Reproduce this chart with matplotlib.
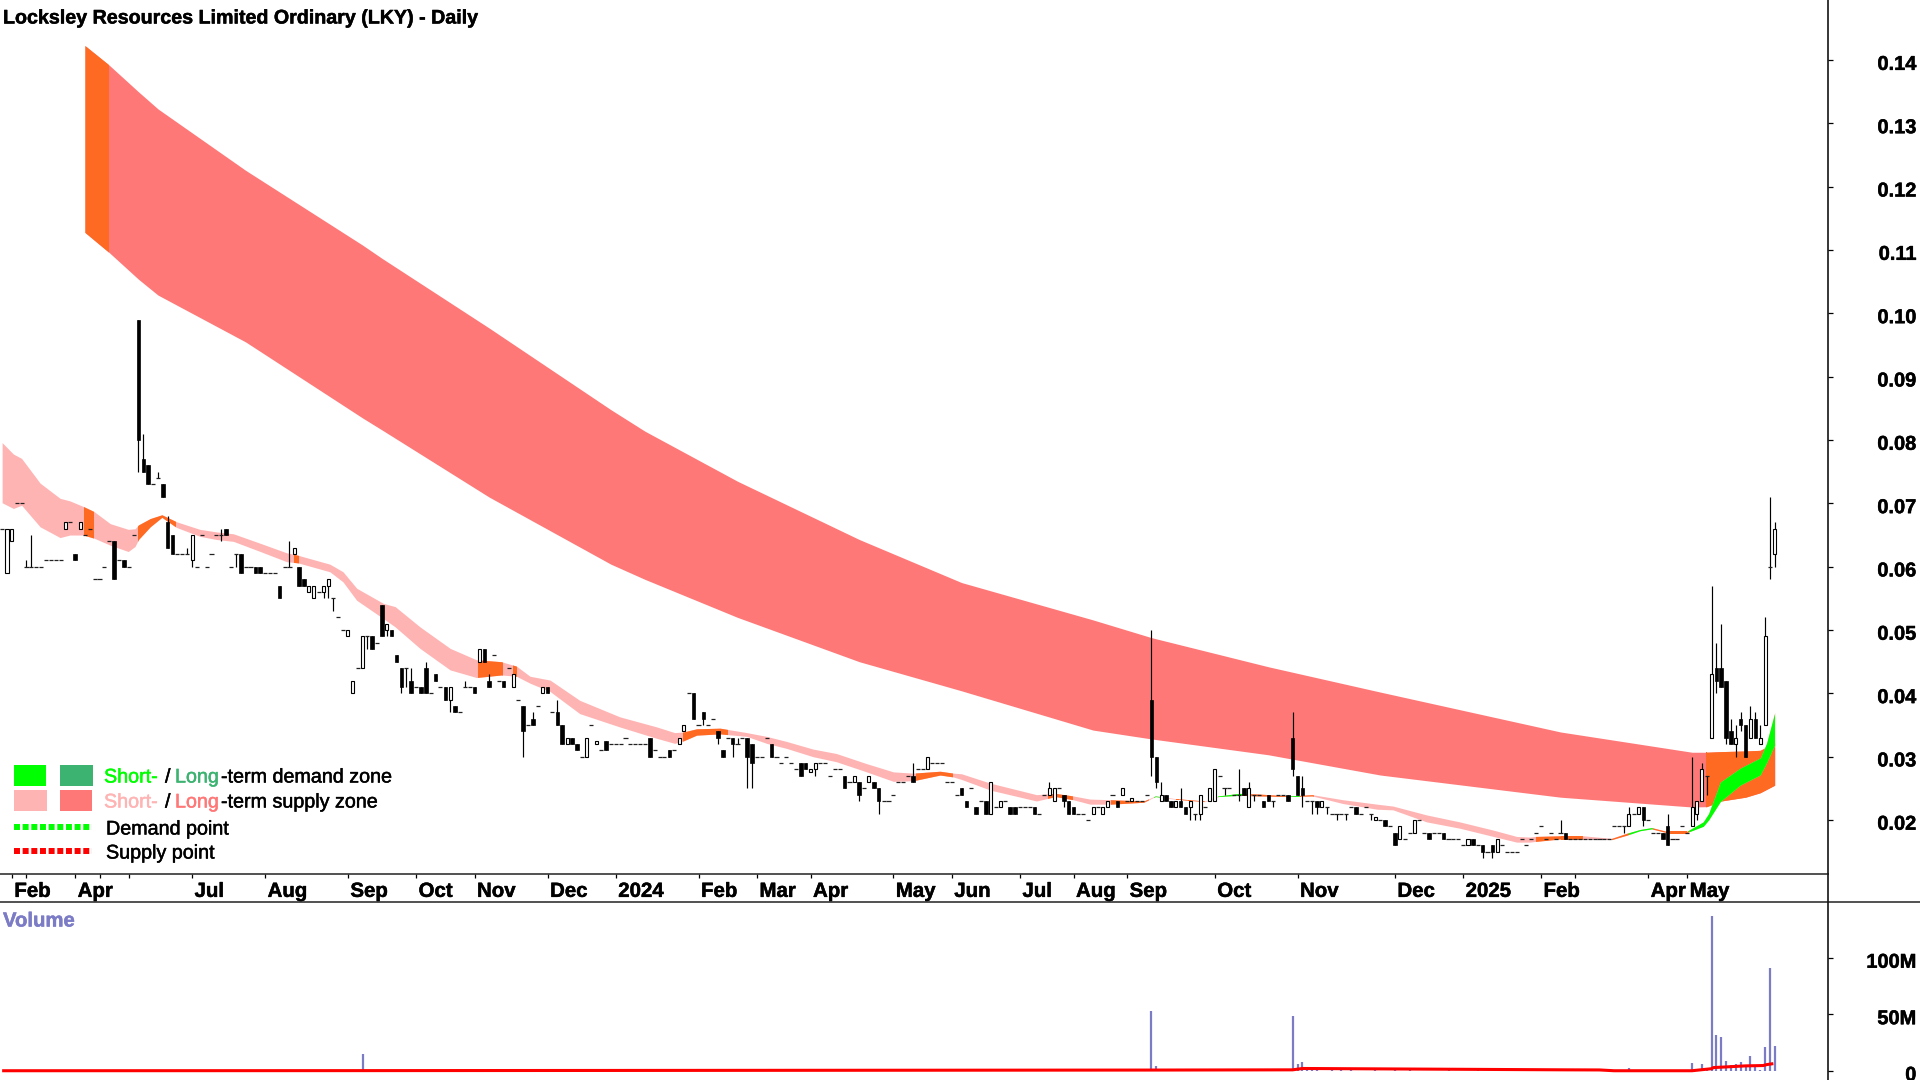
import numpy as np
import matplotlib
matplotlib.use("Agg")
import matplotlib.pyplot as plt
import matplotlib.patheffects as pe
from matplotlib.path import Path
from matplotlib.lines import Line2D
from matplotlib.patches import Rectangle
from matplotlib.transforms import ScaledTranslation

plt.rcParams['font.family'] = ['Liberation Sans', 'DejaVu Sans']

TITLE = "Locksley Resources Limited Ordinary (LKY) - Daily"

# Bars run from index -1 to 363; prices are in thousandths of a dollar.
opens = [
 66,59,64,70,70,60,60,60,60,61, 61,61,61,66,67,62,66,65,66,58,
 58,60,64,64,61,61,60,65,99,77, 76,73,74,73,67,65,62,62,62,61,
 60,65,60,62,65,65,66,60,62,62, 60,60,60,60,59,59,59,57,60,60,
 62,60,58,56,55,56,56,57,55,52, 50,49,40,44,44,49,49,48,54,50,
 50,46,44,44,42,41,41,44,40,43, 41,41,39,38,37,41,41,41,45,47,
 42,46,42,42,44,41,39,38,35,36, 38,40,41,37,37,35,32,33,32,30,
 30,35,32,31,32.5,32,32,32,33,32, 32,32,32,33,31,30,30,31,31,32,
 34,40,40,35,37,35,36,34,31,33, 33,32,33,33,32,30,30,33,32,30,
 29,30,29,28,29,29,27.5,28,29,29, 27,28,28,27,26,26,26,25,26,26,
 25,23,23,24,26,26,27,27,28,28, 28,29,29,29,26,26,24,25,23,25,
 22,23,23,21,22,22,23,22,22,22, 22,22,22,21,24,24,23,25,24,23,
 22,21,21,20,21,22,21,22,24,23, 24,23,23,23,23,24,39,30,23,24,
 23,22,23,22,22,21,21,22,23,23, 27,25,25,24,24,25,22,24,24,23,
 24,23,24,24,24,33,27,25,23,23, 23,22,22,21,21,21,21,22,22,21,
 22,21,20,20,20,19,18,17,17,18, 18,20,18,18,18,18,18,17,17,17,
 16,16,17,16,16,15,16,15,16,15, 15,15,17,16,17,18,19,17,18,17,
 18,18,17,17,17,17,17,17,17,17, 17,19,19,19,19,21,21,22,20,18,
 18,18,19,17,17,19,18,19,21,23, 27,33,44,44,42,34,32,36,35,33,
 36,32,35,60,62]
closes = [
 66,66,66,70,70,60,60,60,60,61, 61,61,61,67,67,61,67,65,66,58,
 58,60,64,58,61,60,60,65,80,75, 73,73,74,71,63,62,62,62,62,65,
 60,65,60,62,65,65,65,60,62,59, 60,60,59,59,59,59,59,55,60,60,
 63,57,57,57,57,56,57,58,55,52, 50,50,42,44,49,49,47,48,49,51,
 49,45,41,44,40,41,40,40,40,42, 41,39,41,37,37,41,41,40,47,45,
 41,46,42,41,44,43,39,34,35,35, 38,41,40,37,35,32,33,32,31,30,
 33,35,32.5,31,31,32,32,32,33,32, 32,32,32,30,31,30,30,30,31,33,
 35,40,36,35,36,35,36,33,30,33, 32,32,33,30,29,30,30,33,30,30,
 29,30,29,28,27,28,28,29,29,29, 27,28,28,25,26,27,24,25,27,25,
 23,23,23,24,26,26,27,26,28,28, 30,29,29,29,26,26,24,24,22,25,
 21,23,21,26,22,23,23,21,21,22, 22,22,21,21,24,25,25,25,23,21,
 21,21,21,20,22,22,22,23,24,22, 25,23,23.5,23,23,24,30,26,24,23,
 22,23,22,21,23,21,24,22,25,28, 27,25,25,24,24,24,25,24,24,22,
 23,23,24,24,23,28,24,24,23,23, 22,23,22,21,21,21,21,22,21,21,
 22,21,20.5,20,19,19,16,19,17,18, 20,20,18,17,18,18,17,17,17,17,
 16,17,16,16,15,15,15,17,16,15, 15,15,17,16,17,18,19,17,18,17,
 18,17,17,17,17,17,17,17,17,17, 17,19,19,19,21,21,22,20,20,18,
 18,17,16,17,17,19,18,22,23,28, 27,43,42,41,33,32,33,35,30,36,
 33,33,49,60,66]

high_bars = [4,5,28,31,33,37,44,58,83,86,94,99,108,113,143,150,186,214,235,237,241,253,255,
             264,266,319,333,341,346,348,350,351,352,354,355,356,358,359,360,361,362,363]
high_vals = [61,65,81,75,68,63,66,64,44,45,42,43,37,39,37,33,29,26,50,26,25,28,26,
             37,27,20,22,21,30,29,57,48,51,36,35,37,38,37,35,52,71,67]
low_bars = [27,38,44,47,65,66,67,74,78,81,82,91,106,143,146,149,152,153,166,175,179,217,235,236,
            243,244,245,250,253,256,260,264,266,268,269,271,273,275,280,303,305,332,336,347,349,
            351,353,355,356,362,363]
low_vals = [75,60,64,60,55,55,53,47,49,40,41,37,30,35,32,30,25,25,27,23,21,22,27,25,
            20,20,20,24,23,23,22,27,22,21,21,21,20,20,20,14,14,18,19,20,24,
            40,32,30,34,58,60]

# Long-term supply zone
long_x = [16,21,27,31,49,73,77,99,124,131,150,175,196,223,235,259,282,319,346,349,352,357,360,363]
long_top = [142.3,139.2,135.0,132.3,122.6,110.8,108.7,97.7,84.8,81.4,73.5,64.3,57.5,51.6,48.8,44.2,
            40.2,33.9,30.7,30.7,30.8,30.9,31.0,32.2]
long_bot = [112.8,109.6,105.4,102.9,95.5,83.5,81.6,71.0,60.4,58.0,52.0,45.0,40.4,34.2,32.8,30.3,
            27.1,23.6,22.05,22.1,23.0,23.6,24.3,25.5]

# Short-term zone
short_x = [-1,1.3,3,6.8,10.9,12.9,15.7,17.9,21.2,24.9,26.3,27,29.4,31.8,34.8,39.6,43,46.5,52,57.4,59.8,
           66.3,69,71.8,77.3,79.7,84.8,91,96.4,101.5,104.6,107.4,111.5,117.6,125.8,133.4,137.1,138.9,
           141.6,146.4,151.9,156,160.1,165.5,170.3,176.5,182,186.1,191.6,194.3,196,202,211.4,215.3,
           218.9,222.4,226.7,233.4,235.8,239.7,246,248.7,253,257,263.3,268,274.3,281.3,284.6,291.5,
           298.3,305.2,310,312.7,313.7,318.9,323.7,329.5,332.6,335.3,337.7,340.8,344.9,348.3,349.4,
           351.8,355.9,360,361.3,363]
short_top = [79.6,77.8,77.1,73.2,70.8,70.4,69.5,68.7,66.8,65.9,66.0,66.6,67.6,68.2,67.1,65.9,65.5,65.2,
             63.7,62.2,61.8,60.4,59.2,56.6,54.2,53.7,50.5,47.1,45.3,45.0,44.3,42.7,42.1,38.9,36.3,34.7,
             33.8,33.9,34.4,34.5,33.8,33.2,32.4,31.2,30.5,28.9,27.6,27.4,27.7,27.4,27.3,25.8,24.0,24.2,
             23.8,23.3,23.2,23.0,23.8,23.4,23.0,23.8,24.2,24.1,23.8,24.0,23.2,22.5,22.2,20.8,19.7,18.4,
             17.4,17.3,17.4,17.5,17.5,17.1,17.9,18.5,18.8,18.2,18.2,19.7,21.0,26.0,28.2,29.8,32.1,37.0]
short_bot = [70.1,69.2,69.7,66.3,64.6,65.0,65.0,64.5,63.4,62.4,63.2,64.3,66.3,67.8,66.2,64.8,64.3,64.0,
             62.4,60.8,60.6,59.2,57.6,54.7,51.8,50.5,47.1,43.7,42.5,42.9,42.7,41.6,40.3,36.8,34.7,32.9,
             32.1,32.5,33.4,33.6,33.2,32.1,31.3,30.0,29.2,27.6,26.1,26.2,27.1,26.8,26.4,24.7,23.0,23.7,
             23.2,22.5,22.5,22.8,23.7,23.3,22.9,23.7,23.9,23.8,23.7,23.8,22.6,21.7,21.6,19.7,18.7,17.4,
             16.5,16.5,16.6,17.0,17.0,16.9,17.6,18.3,18.6,18.0,18.0,19.0,20.0,22.9,25.5,27.1,29.0,31.9]

long_orange = [(16,21),(348.8,363)]
short_orange = [(15.8,17.9),(27,34.8),(59,60),(96.7,101.9),(103.8,104.8),(138.9,148),(186.7,194.3),
                (213.8,218.9),(226.7,234.5),(240,246),(253.5,263.5),(265.5,268.4),(314,323.7),
                (329.5,333),(338,345.3)]
short_green = [(235.5,237),(248.7,253.5),(263.5,265.5),(333,338),(345.3,363)]

# Volume, millions
vol_bars = [4,5,27,28,73,74,76,80,84,86,90,96,235,236,237,238,239,241,243,246,248,252,256,260,264,265,266,267,268,269,
            272,274,276,281,285,288,296,302,308,318,331,333,335,337,340,346,347,348,349,350,351,352,353,354,355,
            356,357,358,359,360,361,362,363]
vol_vals = [1,1,1,1,15,1,1,1,1,1,1,1,53,4.4,1.8,1,1,1,1,1,1,1,1,1,48.6,6,8,2.6,1.5,2,
            1,1,1,1,1,1,1,1,1,1,1,2.5,1,1,1,6.8,1,6,1.5,137,32,30,9,5,6,
            8,5,13,5,1,21.6,91.4,22]
avg_x = [-1,73,235,264,266,320,327,330,346,350,350.4,357,360.6,361.3,362.7]
avg_vals = [0.2,0.3,0.8,1.0,2.2,1.0,0.9,0.2,0.2,2,3,4.5,4.8,5.6,6.5]

month_ticks = [1,4,14,19,25,38,53,70,84,96,111,125,142,154,165,182,194,208,219,230,248,265,285,299,315,322,337,345]
month_labels = ['Feb','','Apr','','','Jul','Aug','Sep','Oct','Nov','Dec','2024','Feb','Mar','Apr','May','Jun',
                'Jul','Aug','Sep','Oct','Nov','Dec','2025','Feb','','Apr','May']
price_ticks = [0.02,0.03,0.04,0.05,0.06,0.07,0.08,0.09,0.10,0.11,0.12,0.13,0.14]
vol_ticks = [0,50,100]
vol_tick_labels = ['0','50M','100M']

W, H = 1920, 1080
PXL, BAR = 7.0, 4.87
RIGHT = 1828
fig = plt.figure(figsize=(W/100, H/100), dpi=100, facecolor='white')

def axes_px(x0, y0, x1, y1):
    return fig.add_axes([x0/W, 1-y1/H, (x1-x0)/W, (y1-y0)/H])

ax = axes_px(0, 0, RIGHT, 874)
ax_d = axes_px(0, 874, RIGHT, 902)
ax_v = axes_px(0, 902, RIGHT, 1080)
xlim = (-PXL/BAR, (RIGHT-PXL)/BAR)
for a in (ax, ax_d, ax_v):
    a.set_xlim(*xlim)
    a.patch.set_alpha(0)
    for s in a.spines.values():
        s.set_visible(False)
    a.spines['right'].set_visible(True)
    a.spines['right'].set_linewidth(1.1)

ax.set_ylim(0.01147, 0.1495)
ax_v.set_ylim(-8, 149.6)
ax_d.set_ylim(0, 1)

def spans_path(spans):
    verts, codes = [], []
    for a, b in spans:
        verts += [(a, 0.0), (b, 0.0), (b, 0.2), (a, 0.2), (a, 0.0)]
        codes += [Path.MOVETO, Path.LINETO, Path.LINETO, Path.LINETO, Path.CLOSEPOLY]
    return Path(verts, codes)

def band(x, top, bot, color, spans=None, z=1):
    p = ax.fill_between(x, np.array(top)/1000, np.array(bot)/1000, color=color, lw=0, zorder=z)
    if spans:
        p.set_clip_path(spans_path(spans), ax.transData)
    return p

ORANGE, LPINK, SPINK, GREEN, DGREEN = '#FF6A22', '#FF7878', '#FFB4B4', '#00FF00', '#3CB371'
band(long_x, long_top, long_bot, LPINK, z=1)
band(long_x, long_top, long_bot, ORANGE, long_orange, z=1.1)
band(short_x, short_top, short_bot, SPINK, z=1.2)
band(short_x, short_top, short_bot, ORANGE, short_orange, z=1.3)
band(short_x, short_top, short_bot, GREEN, short_green, z=1.4)

# Candles
o = np.array(opens)/1000
c = np.array(closes)/1000
idx = np.arange(-1, len(o)-1)
hi = np.maximum(o, c)
lo = np.minimum(o, c)
hi[np.array(high_bars)+1] = np.array(high_vals)/1000
lo[np.array(low_bars)+1] = np.array(low_vals)/1000
ax.vlines(idx, lo, hi, color='black', lw=0.85, zorder=3)
flat = o == c
ax.hlines(o[flat], idx[flat]-0.42, idx[flat]+0.42, color='#222222', lw=0.9, zorder=4)
up = (c > o)
dn = (c < o)
ax.bar(idx[up], (c-o)[up], bottom=o[up], width=0.62, facecolor='white', edgecolor='black', lw=0.8, zorder=4)
ax.bar(idx[dn], (c-o)[dn], bottom=o[dn], width=0.72, facecolor='black', edgecolor='black', lw=0.5, zorder=4)

FS = 14.4
HEAVY = [pe.withStroke(linewidth=0.35, foreground='black')]
shift = ScaledTranslation(0, -1.6/72, fig.dpi_scale_trans)

# Price axis
ax.set_xticks([])
ax.set_yticks(price_ticks)
ax.set_yticklabels([f"{v:.2f}" for v in price_ticks], fontsize=FS, fontweight='bold', ha='right')
ax.yaxis.tick_right()
ax.tick_params(axis='y', length=3.6, width=0.9, pad=60)

# Date strip
ax_d.set_yticks([])
ax_d.set_xticks(month_ticks)
ax_d.set_xticklabels([])
ax_d.xaxis.tick_top()
ax_d.tick_params(axis='x', direction='in', length=3.2, width=0.9, top=True, bottom=False)
for t, l in zip(month_ticks, month_labels):
    if l:
        ax_d.annotate(l, (t, 0.38), xytext=(1.8, 0), textcoords='offset points', ha='left', va='center',
                      fontsize=FS+0.3, fontweight='bold', annotation_clip=False, path_effects=HEAVY)

# Volume
ax_v.vlines(vol_bars, 0, vol_vals, color='#7B7BC6', lw=1.6, zorder=2)
ax_v.plot(avg_x, avg_vals, color='#FF0000', lw=2.2, zorder=3, solid_capstyle='butt')
ax_v.set_xticks([])
ax_v.set_yticks(vol_ticks)
ax_v.set_yticklabels(vol_tick_labels, fontsize=FS, fontweight='bold', ha='right')
ax_v.yaxis.tick_right()
ax_v.tick_params(axis='y', length=3.6, width=0.9, pad=60)

for a in (ax, ax_v):
    for lab in a.yaxis.get_majorticklabels():
        lab.set_transform(lab.get_transform() + shift)
        lab.set_path_effects(HEAVY)

# Frame lines
fig.add_artist(Line2D([0, RIGHT/W], [1-874/H]*2, color='#222222', lw=1.1))
fig.add_artist(Line2D([0, 1], [1-902/H]*2, color='#222222', lw=1.1))

def T(x, y, s, color='black', weight='normal', size=FS, stroke=0.35):
    t = fig.text(x/W, 1-y/H, s, color=color, fontweight=weight, fontsize=size, va='center', ha='left', zorder=10)
    t.set_path_effects([pe.withStroke(linewidth=stroke, foreground=color)])

def R(x0, y0, x1, y1, color):
    fig.add_artist(Rectangle((x0/W, 1-y1/H), (x1-x0)/W, (y1-y0)/H, transform=fig.transFigure,
                             facecolor=color, edgecolor='none', zorder=10))

T(3, 18, TITLE, weight='bold', size=14.15)
T(3, 921, "Volume", color='#7B7BC6', weight='bold', size=14.6)

LEG = 14.2
R(14, 765, 46, 786, GREEN); R(60, 765, 93, 786, DGREEN)
R(14, 790, 47, 811, SPINK); R(60, 790, 92, 811, LPINK)
T(104, 777, "Short-", GREEN, size=LEG); T(165, 777, "/", size=LEG)
T(175, 777, "Long", DGREEN, size=LEG); T(221, 777, "-term demand zone", size=LEG)
T(104, 802, "Short-", SPINK, size=LEG); T(165, 802, "/", size=LEG)
T(175, 802, "Long", LPINK, size=LEG); T(221, 802, "-term supply zone", size=LEG)
T(106, 829, "Demand point", size=LEG)
T(106, 853, "Supply point", size=LEG)
for yy, col in ((827, GREEN), (851, '#FF0000')):
    fig.add_artist(Line2D([14/W, 92/W], [1-yy/H]*2, color=col, lw=4.3, dashes=(1.0, 0.45),
                          dash_capstyle='butt', zorder=10))

fig.savefig('out.png', dpi=100)
